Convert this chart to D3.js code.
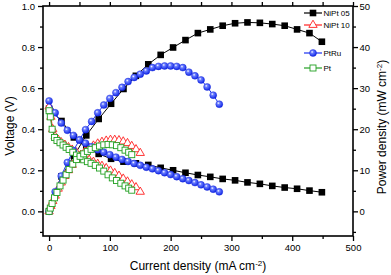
<!DOCTYPE html>
<html><head><meta charset="utf-8">
<script src="https://cdn.jsdelivr.net/npm/d3@7"></script>
<style>html,body{margin:0;padding:0;background:#fff}svg{display:block}text{font-family:"Liberation Sans",Arial,sans-serif}</style>
</head><body>
<svg id="c" width="391" height="275"></svg>
<script>
// ---- data ----
const nipt05Current = [0,20.4,40.8,61.2,81.6,102,122.4,142.8,163.2,183.6,204,224.4,244.8,265.2,285.6,306,326.4,346.8,367.2,387.6,408,428.4,448.8];
const nipt05Voltage = [0.50,0.44,0.36,0.31,0.28,0.256,0.242,0.234,0.226,0.212,0.200,0.188,0.177,0.168,0.158,0.151,0.141,0.134,0.124,0.116,0.110,0.101,0.093];
const nipt05Power   = [0,8.5,13.5,18.5,22.5,26.2,29.8,33.0,35.8,38.1,39.9,41.7,43.4,44.3,45.2,45.8,46.0,45.9,45.6,45.2,44.3,43.4,41.3];

const nipt10Current = [0,3,6,10,15,20,26,32,38,45,52,59,66,73,80,87,94,101,108,115,122,129,136,143,150];
const nipt10Voltage = [0.51,0.46,0.40,0.365,0.348,0.336,0.324,0.312,0.30,0.287,0.274,0.262,0.251,0.241,0.231,0.221,0.21,0.198,0.186,0.173,0.159,0.145,0.131,0.117,0.095];
const nipt10Power   = [0,1.3,2.5,3.8,5.5,7.0,8.6,10.0,11.3,12.6,13.7,14.6,15.4,16.0,16.5,16.9,17.2,17.4,17.4,17.3,17.0,16.6,15.9,15.1,14.2];

const ptruCurrent = [0,10,20,30,40,50,60,70,80,90,100,110,120,130,140,150,160,170,180,190,200,210,220,230,240,250,260,270,280];
const ptruVoltage = [0.538,0.48,0.43,0.395,0.37,0.348,0.332,0.315,0.30,0.288,0.276,0.264,0.253,0.243,0.233,0.224,0.215,0.207,0.198,0.188,0.179,0.169,0.159,0.150,0.140,0.129,0.119,0.108,0.095];
const ptruPower   = [0,4.8,8.6,11.9,14.8,17.4,19.9,21.9,24.0,25.9,27.5,28.9,30.2,31.6,32.6,33.4,34.2,35.0,35.3,35.4,35.4,35.3,35.0,33.9,33.0,32.0,30.3,28.3,26.1];

const ptCurrent = [0,2,5,9,13,18,23,28,33,39,45,51,57,63,69,76,83,90,97,104,111,118,125,131,136];
const ptVoltage = [0.49,0.46,0.40,0.36,0.345,0.334,0.323,0.312,0.301,0.288,0.274,0.261,0.251,0.242,0.234,0.224,0.211,0.196,0.178,0.163,0.15,0.137,0.124,0.113,0.103];
const ptPower   = [0,0.8,1.9,3.3,4.6,6.2,7.6,8.9,10.2,11.5,12.6,13.4,14.0,14.6,15.1,15.5,15.9,16.2,16.3,16.2,16.0,15.5,14.9,14.4,13.8];

const seriesNames = ["NiPt 05","NiPt 10","PtRu","Pt"];
const xTicks = [0,100,200,300,400,500];
const vTicks = [0.0,0.2,0.4,0.6,0.8,1.0];
const pTicks = [0,10,20,30,40,50];

// ---- layout ----
const svg = d3.select("#c");
const L=43, R=353, T=6, B=236;
const x = d3.scaleLinear().domain([-10,500]).range([L,R]);
const yV = d3.scaleLinear().domain([-0.12,1.0]).range([B,T]);
const yP = d3.scaleLinear().domain([-6,50]).range([B,T]);

const defs = svg.append("defs");
const g = defs.append("radialGradient").attr("id","ball").attr("cx","38%").attr("cy","35%").attr("r","65%");
g.append("stop").attr("offset","0%").attr("stop-color","#ffffff");
g.append("stop").attr("offset","30%").attr("stop-color","#6a7dff");
g.append("stop").attr("offset","100%").attr("stop-color","#1228e6");

// frame
svg.append("rect").attr("x",L).attr("y",T).attr("width",R-L).attr("height",B-T)
  .attr("fill","none").attr("stroke","#000").attr("stroke-width",1.6);

const fs = "9.5px";
// bottom axis
const xAx = d3.axisBottom(x).tickValues(xTicks).tickSize(5).tickPadding(3).tickFormat(d3.format("d"));
svg.append("g").attr("transform",`translate(0,${B})`).call(xAx);
svg.append("g").attr("transform",`translate(0,${B})`)
  .call(d3.axisBottom(x).tickValues([50,150,250,350,450]).tickSize(3).tickFormat(""));
// top axis ticks
svg.append("g").attr("transform",`translate(0,${T})`)
  .call(d3.axisTop(x).tickValues(d3.range(0,501,50)).tickSize(4).tickFormat(""));
// left axis
svg.append("g").attr("transform",`translate(${L},0)`)
  .call(d3.axisLeft(yV).tickValues(vTicks).tickSize(5).tickPadding(3).tickFormat(d3.format(".1f")));
svg.append("g").attr("transform",`translate(${L},0)`)
  .call(d3.axisLeft(yV).tickValues([-0.1,0.1,0.3,0.5,0.7,0.9]).tickSize(3).tickFormat(""));
// right axis
svg.append("g").attr("transform",`translate(${R},0)`)
  .call(d3.axisRight(yP).tickValues(pTicks).tickSize(5).tickPadding(1.5).tickFormat(d3.format("d")));
svg.append("g").attr("transform",`translate(${R},0)`)
  .call(d3.axisRight(yP).tickValues([-5,5,15,25,35,45]).tickSize(3).tickFormat(""));
svg.selectAll(".domain").remove();
svg.selectAll(".tick line").attr("stroke","#000").attr("stroke-width",1.3);
svg.selectAll(".tick text").attr("font-size",fs).attr("fill","#000").attr("font-family","Liberation Sans, Arial, sans-serif");

// axis titles
svg.append("text").attr("x",(L+R)/2).attr("y",270).attr("text-anchor","middle").attr("font-size","12px")
  .html('Current density (mA cm<tspan dy="-4" font-size="8px">-2</tspan><tspan dy="4">)</tspan>');
svg.append("text").attr("transform","translate(14,126) rotate(-90)").attr("text-anchor","middle").attr("font-size","12px")
  .text("Voltage (V)");
svg.append("text").attr("transform","translate(386,127) rotate(-90)").attr("text-anchor","middle").attr("font-size","12px")
  .html('Power density (mW cm<tspan dy="-4" font-size="8px">-2</tspan><tspan dy="4">)</tspan>');

// ---- series ----
const plot = svg.append("g");
function zip(xs, ys){ return xs.map((v,i)=>[v, ys[i]]); }
const series = [
  {name:seriesNames[0], cur:nipt05Current, v:nipt05Voltage, p:nipt05Power, color:"#000", kind:"sqfill"},
  {name:seriesNames[1], cur:nipt10Current, v:nipt10Voltage, p:nipt10Power, color:"#ff2020", kind:"tri"},
  {name:seriesNames[2], cur:ptruCurrent, v:ptruVoltage, p:ptruPower, color:"#1a2ff0", kind:"ball"},
  {name:seriesNames[3], cur:ptCurrent, v:ptVoltage, p:ptPower, color:"#22a022", kind:"sqopen"}
];
function drawMarker(sel, kind, color){
  if(kind==="sqfill"){
    sel.append("rect").attr("x",-3.3).attr("y",-3.3).attr("width",6.6).attr("height",6.6).attr("fill","#000");
  } else if(kind==="tri"){
    sel.append("path").attr("d",d3.symbol(d3.symbolTriangle,30)()).attr("fill","#fff").attr("stroke",color).attr("stroke-width",0.9);
  } else if(kind==="ball"){
    sel.append("circle").attr("r",3.5).attr("fill","url(#ball)").attr("stroke","#1020d8").attr("stroke-width",0.4);
  } else {
    sel.append("rect").attr("x",-3).attr("y",-3).attr("width",6).attr("height",6).attr("fill","#fff").attr("stroke",color).attr("stroke-width",0.9);
  }
}
series.forEach(s=>{
  const vd = zip(s.cur, s.v), pd = zip(s.cur, s.p);
  [[vd,yV],[pd,yP]].forEach(([data,ys])=>{
    plot.append("path").datum(data).attr("fill","none").attr("stroke",s.color).attr("stroke-width",1)
      .attr("d", d3.line().x(d=>x(d[0])).y(d=>ys(d[1])));
    plot.selectAll(null).data(data).join("g")
      .attr("transform",d=>`translate(${x(d[0])},${ys(d[1])})`)
      .each(function(){ drawMarker(d3.select(this), s.kind, s.color); });
  });
});

// ---- legend ----
const legY = [13,25,53,68];
series.forEach((s,i)=>{
  const gy = legY[i];
  const lg = svg.append("g");
  lg.append("line").attr("x1",304).attr("x2",322).attr("y1",gy).attr("y2",gy).attr("stroke",s.color).attr("stroke-width",1.2);
  const m = lg.append("g").attr("transform",`translate(313,${gy})`);
  drawMarker(m, s.kind, s.color);
  lg.append("text").attr("x",323.5).attr("y",gy+3).attr("font-size","8px").attr("fill","#000").text(s.name);
});
</script>
</body></html>
